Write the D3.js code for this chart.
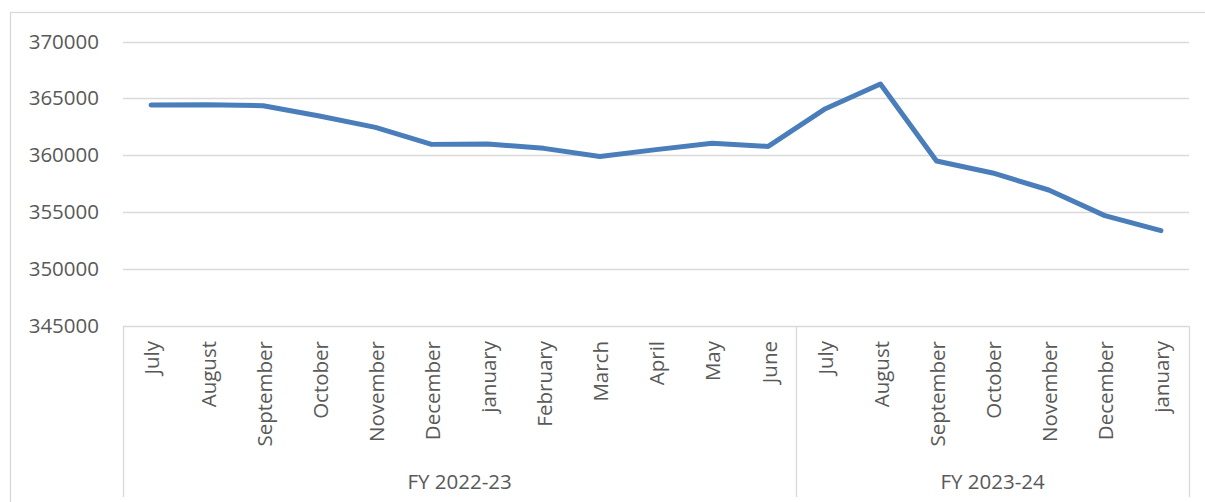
<!DOCTYPE html>
<html>
<head>
<meta charset="utf-8">
<script src="https://cdn.jsdelivr.net/npm/d3@7"></script>
<style>
  html, body { margin: 0; padding: 0; background: #fff; }
  svg { display: block; }
  text { font-family: "Open Sans", sans-serif; fill: #595959; }
</style>
</head>
<body>
<svg id="chart" width="1205" height="502"></svg>
<script>
const months = ["July","August","September","October","November","December","january","February","March","April","May","June",
                "July","August","September","October","November","December","january"];
const fiscalYears = ["FY 2022-23","FY 2022-23","FY 2022-23","FY 2022-23","FY 2022-23","FY 2022-23","FY 2022-23","FY 2022-23","FY 2022-23","FY 2022-23","FY 2022-23","FY 2022-23",
                     "FY 2023-24","FY 2023-24","FY 2023-24","FY 2023-24","FY 2023-24","FY 2023-24","FY 2023-24"];
const values = [364420, 364450, 364360, 363450, 362450, 360960, 360990, 360610, 359900, 360500, 361050, 360780,
                364040, 366270, 359500, 358450, 356950, 354700, 353380];
const yTicks = [345000, 350000, 355000, 360000, 365000, 370000];

(function () {
const svg = d3.select("#chart");
const pLeft = 123, pRight = 1189, pTop = 41.5, pBottom = 326, catBottom = 497;

// outer border
svg.append("rect").attr("x", 10.5).attr("y", 12.5).attr("width", 1205).attr("height", 520)
  .attr("fill", "none").attr("stroke", "#d9d9d9").attr("stroke-width", 1.3);

const idx = d3.range(months.length);
const x = d3.scaleBand().domain(idx).range([pLeft, pRight]).padding(0);
const y = d3.scaleLinear().domain([345000, 370000]).range([pBottom, pTop]);

// gridlines
svg.append("g").selectAll("line").data(yTicks).join("line")
  .attr("x1", pLeft).attr("x2", pRight)
  .attr("y1", d => Math.round(y(d)) + 0.5).attr("y2", d => Math.round(y(d)) + 0.5)
  .attr("stroke", "#d9d9d9").attr("stroke-width", 1.3);

// y axis labels
const yAxis = d3.axisLeft(y).tickValues(yTicks).tickFormat(d3.format("d")).tickSize(0).tickPadding(24);
const ya = svg.append("g").attr("transform", `translate(${pLeft},0)`).call(yAxis);
ya.select(".domain").remove();
ya.selectAll("text").attr("font-size", 20.5).attr("fill", "#595959").attr("font-family", "Open Sans, sans-serif");

// category group separators
const groups = Array.from(d3.group(idx, i => fiscalYears[i]), ([k, v]) => ({name: k, first: v[0], last: v[v.length - 1]}));
const seps = [x(0)].concat(groups.map(g => x(g.last) + x.bandwidth()));
svg.append("g").selectAll("line").data(seps).join("line")
  .attr("x1", d => Math.round(d) + 0.5).attr("x2", d => Math.round(d) + 0.5)
  .attr("y1", pBottom).attr("y2", catBottom)
  .attr("stroke", "#d9d9d9").attr("stroke-width", 1.3);

// month labels
svg.append("g").selectAll("text").data(idx).join("text")
  .attr("transform", i => `translate(${x(i) + x.bandwidth() / 2 + 1},${pBottom + 15}) rotate(-90)`)
  .attr("text-anchor", "end").attr("dy", "0.36em")
  .attr("font-size", 20.5)
  .text(i => months[i]);

// fiscal year labels
svg.append("g").selectAll("text").data(groups).join("text")
  .attr("x", g => (x(g.first) + x(g.last) + x.bandwidth()) / 2)
  .attr("y", 482).attr("dy", "0.36em")
  .attr("text-anchor", "middle").attr("font-size", 20.5)
  .text(g => g.name);

// line
const line = d3.line().x(i => x(i) + x.bandwidth() / 2).y(i => y(values[i]));
svg.append("path").datum(idx).attr("d", line)
  .attr("fill", "none").attr("stroke", "#4a7ebb").attr("stroke-width", 5)
  .attr("stroke-linejoin", "round").attr("stroke-linecap", "round");
})();
</script>
</body>
</html>
